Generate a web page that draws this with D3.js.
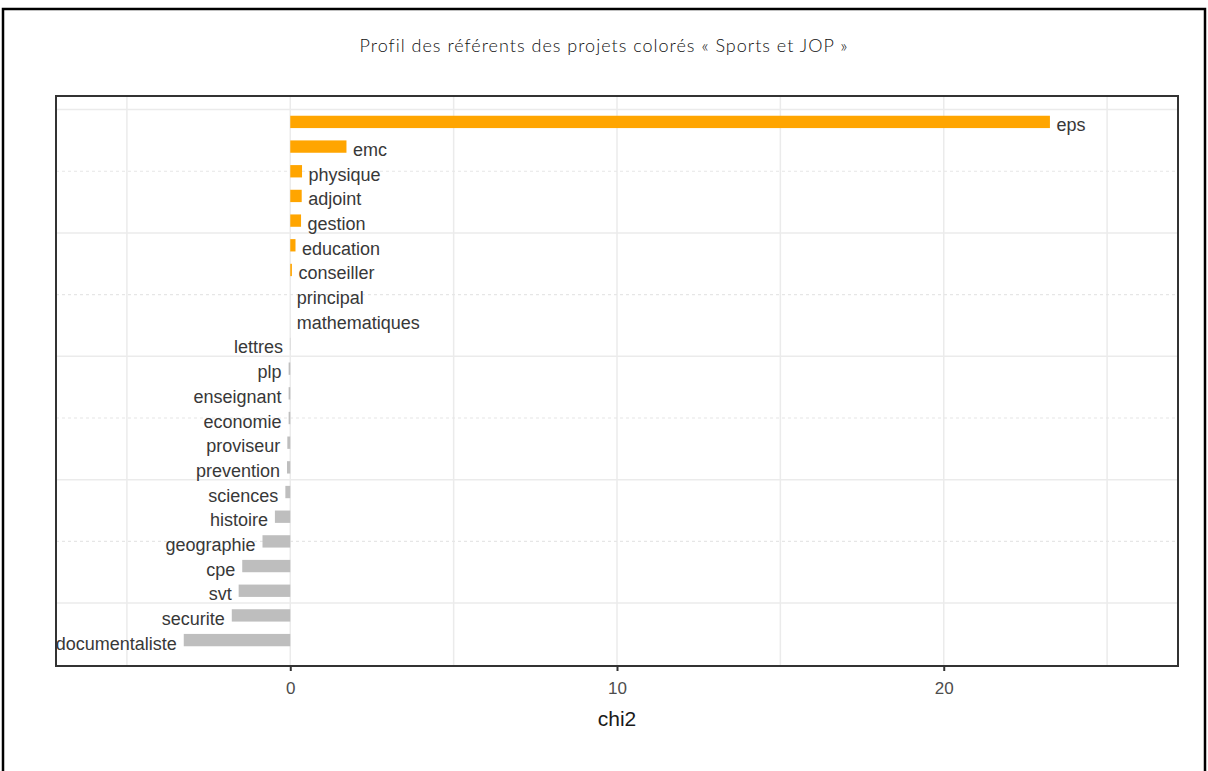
<!DOCTYPE html>
<html>
<head>
<meta charset="utf-8">
<script src="https://cdn.jsdelivr.net/npm/d3@7"></script>
<style>
  body { margin: 0; background: #fff; }
  svg { display: block; }
</style>
</head>
<body>
<div id="chart"></div>
<script>
// --------------------------------------
//  Data
// --------------------------------------

const categories = ["eps", "emc", "physique", "adjoint", "gestion", "education",
  "conseiller", "principal", "mathematiques", "lettres", "plp", "enseignant",
  "economie", "proviseur", "prevention", "sciences", "histoire", "geographie",
  "cpe", "svt", "securite", "documentaliste"];

const chi2 = [23.25, 1.72, 0.36, 0.35, 0.33, 0.16, 0.05, 0, 0, -0.01, -0.05,
  -0.05, -0.05, -0.09, -0.1, -0.15, -0.47, -0.85, -1.47, -1.58, -1.79, -3.26];

const xTicks = [0, 10, 20];
const xMinor = [-5, 5, 15, 25];
const yMajor = [2.5, 7.5, 12.5, 17.5, 22.5];
const yMinor = [5, 10, 15, 20];

const title = "Profil des référents des projets colorés « Sports et JOP »";
const xTitle = "chi2";

// position 1 = bottom row
const data = categories.map((c, i) => ({
  name: c,
  value: chi2[i],
  pos: categories.length - i
}));

// --------------------------------------
//  Canvas
// --------------------------------------

const width = 1208, height = 771;
const panel = { left: 56, top: 96, right: 1178, bottom: 666 };

const svg = d3.select("#chart")
  .append("svg")
    .attr("width", width)
    .attr("height", height);

svg.append("rect")
    .attr("x", 3)
    .attr("y", 9)
    .attr("width", 1202)
    .attr("height", 800)
    .attr("fill", "#fff")
    .attr("stroke", "#000")
    .attr("stroke-width", 2.5);

svg.append("text")
    .attr("x", 604)
    .attr("y", 52)
    .attr("text-anchor", "middle")
    .attr("font-family", "Lato, 'Open Sans', sans-serif")
    .attr("font-weight", 300)
    .attr("font-size", 18)
    .attr("letter-spacing", 1)
    .attr("fill", "#111")
    .text(title);

// --------------------------------------
//  Scales
// --------------------------------------

let x = d3.scaleLinear()
    .domain([-7.17, 27.17])
    .range([panel.left, panel.right]);

let y = d3.scaleLinear()
    .domain([-0.05, 23.05])
    .range([panel.bottom, panel.top]);

const barH = y(0) - y(0.5);

// --------------------------------------
//  Grid
// --------------------------------------

const grid = svg.append("g");

grid.selectAll(".vgrid")
  .data(xTicks.concat(xMinor))
  .join("line")
    .attr("x1", d => x(d))
    .attr("x2", d => x(d))
    .attr("y1", panel.top)
    .attr("y2", panel.bottom)
    .attr("stroke", "#ebebeb")
    .attr("stroke-width", 1.5);

grid.selectAll(".hgrid")
  .data(yMajor)
  .join("line")
    .attr("x1", panel.left)
    .attr("x2", panel.right)
    .attr("y1", d => y(d))
    .attr("y2", d => y(d))
    .attr("stroke", "#ebebeb")
    .attr("stroke-width", 1.5);

grid.selectAll(".hminor")
  .data(yMinor)
  .join("line")
    .attr("x1", panel.left)
    .attr("x2", panel.right)
    .attr("y1", d => y(d))
    .attr("y2", d => y(d))
    .attr("stroke", "#e6e6e6")
    .attr("stroke-width", 1.2)
    .attr("stroke-dasharray", "3,3");

// --------------------------------------
//  Bars + labels
// --------------------------------------

svg.append("clipPath")
    .attr("id", "clip")
  .append("rect")
    .attr("x", panel.left)
    .attr("y", panel.top)
    .attr("width", panel.right - panel.left)
    .attr("height", panel.bottom - panel.top);

const inner = svg.append("g").attr("clip-path", "url(#clip)");

inner.selectAll(".bar")
  .data(data)
  .join("rect")
    .attr("class", "bar")
    .attr("x", d => x(Math.min(0, d.value)))
    .attr("y", d => y(d.pos) - barH / 2)
    .attr("width", d => Math.abs(x(d.value) - x(0)))
    .attr("height", barH)
    .attr("fill", d => d.value >= 0 ? "#ffa500" : "#bebebe");

inner.selectAll(".label")
  .data(data)
  .join("text")
    .attr("class", "label")
    .attr("x", d => x(d.value) + (d.value >= 0 ? 6.5 : -7))
    .attr("y", d => y(d.pos) + 9.5)
    .attr("text-anchor", d => d.value >= 0 ? "start" : "end")
    .attr("font-family", "'Liberation Sans', Arial, sans-serif")
    .attr("font-size", 18)
    .attr("fill", "#383838")
    .text(d => d.name);

// --------------------------------------
//  Panel border + axis
// --------------------------------------

svg.append("rect")
    .attr("x", panel.left)
    .attr("y", panel.top)
    .attr("width", panel.right - panel.left)
    .attr("height", panel.bottom - panel.top)
    .attr("fill", "none")
    .attr("stroke", "#333")
    .attr("stroke-width", 2);

const xAxis = svg.append("g")
    .attr("transform", `translate(0, ${panel.bottom})`)
    .call(d3.axisBottom(x)
      .tickValues(xTicks)
      .tickFormat(d3.format("d"))
      .tickSize(5)
      .tickPadding(11));

xAxis.select(".domain").remove();
xAxis.selectAll(".tick line")
    .attr("stroke", "#333")
    .attr("stroke-width", 2);
xAxis.selectAll(".tick text")
    .attr("font-family", "'Liberation Sans', Arial, sans-serif")
    .attr("font-size", 17)
    .attr("fill", "#4d4d4d");

svg.append("text")
    .attr("x", x(10))
    .attr("y", 726)
    .attr("text-anchor", "middle")
    .attr("font-family", "'Liberation Sans', Arial, sans-serif")
    .attr("font-size", 21)
    .attr("fill", "#1a1a1a")
    .text(xTitle);
</script>
</body>
</html>
